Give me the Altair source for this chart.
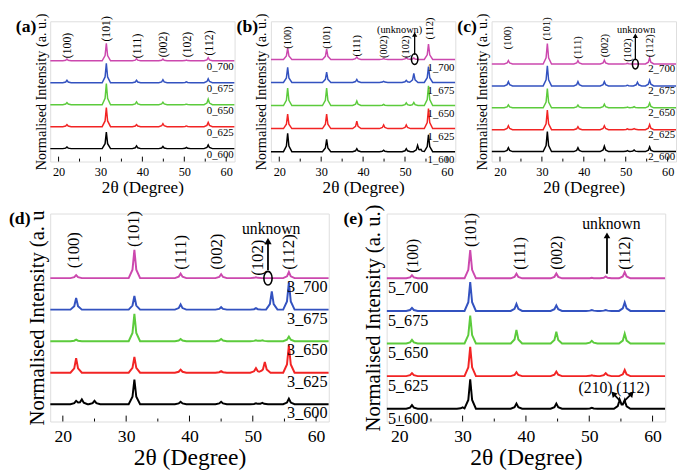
import altair as alt
import numpy as np
import pandas as pd

FONT = "Liberation Serif, Times New Roman, DejaVu Serif, serif"
X_DOMAIN = [18, 62]
MAJOR_TICKS = [20, 30, 40, 50, 60]
MINOR_TICKS = [25, 35, 45, 55]
TEMPS = ["600", "625", "650", "675", "700"]
TRACE_COLORS = ["#000000", "#f22424", "#5ccb3c", "#3352c0", "#cc48ae"]
HKL6 = ["(100)", "(101)", "(111)", "(002)", "(102)", "(112)"]

# ---------------- panel (a) ----------------
A_POS = [22.0, 31.4, 38.6, 44.9, 50.5, 55.7]
A_HEIGHTS = [
    [1.7, 18.0, 3.0, 2.3, 1.3, 4.0],
    [2.3, 20.7, 2.3, 3.3, 0.8, 4.7],
    [2.3, 23.0, 3.0, 2.7, 0.6, 6.0],
    [2.7, 21.0, 2.7, 3.3, 1.0, 4.3],
    [2.0, 19.0, 2.3, 2.0, 0.7, 3.3],
]
A_HKL_X = [22.0, 31.4, 38.8, 45.0, 50.6, 55.8]
A_HKL_Y = [98, 116, 98, 99, 99, 101]

# ---------------- panel (b) ----------------
B_POS = [22.0, 31.3, 38.5, 44.9, 50.3, 52.1, 53.0, 53.8, 55.6]
B_HEIGHTS = [
    [20.0, 13.3, 3.3, 1.7, 3.3, 0.0, 6.7, 2.0, 18.3],
    [15.7, 15.7, 8.0, 4.0, 4.0, 0.0, 0.0, 0.0, 21.7],
    [19.0, 19.0, 5.0, 1.3, 3.0, 3.3, 0.0, 0.0, 21.3],
    [16.3, 11.3, 3.3, 1.3, 2.3, 9.7, 0.0, 0.0, 17.3],
    [12.3, 11.0, 2.7, 1.0, 1.7, 1.5, 0.0, 0.0, 16.7],
]
B_HKL_X = [22.0, 31.3, 38.5, 44.9, 50.2, 56.0]
B_HKL_Y = [111.6, 111.6, 103, 101.6, 101.6, 121.6]

# ---------------- panel (c) ----------------
C_POS = [22.0, 31.3, 38.6, 44.9, 50.4, 52.0, 52.8, 55.7]
C_HEIGHTS = [
    [4.3, 22.0, 4.3, 6.0, 1.0, 1.7, 0.0, 5.3],
    [4.3, 21.7, 3.3, 4.3, 1.0, 1.3, 0.0, 5.7],
    [3.3, 21.3, 3.0, 4.0, 0.8, 1.3, 0.0, 5.3],
    [4.7, 22.3, 4.7, 4.7, 0.8, 0.0, 4.0, 6.3],
    [3.7, 22.7, 3.7, 4.3, 0.7, 0.0, 0.0, 6.7],
]
C_HKL_X = [22.0, 31.3, 38.6, 45.0, 50.6, 55.7]
C_HKL_Y = [112.7, 122.7, 102.7, 104.3, 99.3, 104.3]

# ---------------- panel (d) ----------------
D_POS = [22.1, 23.0, 25.0, 31.3, 38.6, 45.0, 50.5, 51.5, 51.9, 53.0, 55.7]
D_HEIGHTS = [
    [3.7, 5.3, 3.7, 27.0, 2.7, 2.7, 1.0, 1.5, 0.0, 0.0, 6.0],
    [16.0, 0.0, 0.0, 17.3, 3.3, 1.7, 5.0, 0.0, 11.7, 0.0, 30.0],
    [1.7, 0.0, 0.0, 30.0, 2.3, 2.3, 1.0, 1.0, 0.0, 0.0, 5.0],
    [12.7, 0.0, 0.0, 15.0, 5.7, 2.7, 1.7, 0.0, 0.0, 20.0, 30.0],
    [3.3, 0.0, 0.0, 31.0, 5.0, 4.3, 1.0, 0.0, 0.0, 0.0, 6.7],
]
D_HKL_X = [21.8, 31.3, 38.75, 44.4, 50.8, 55.7]
D_HKL_Y = [149.3, 172.6, 147.6, 147.6, 141.0, 147.6]

# ---------------- panel (e) ----------------
E_POS = [22.0, 30.0, 31.2, 38.5, 44.8, 50.4, 52.6, 54.8, 55.6]
E_HEIGHTS = [
    [4.0, 1.5, 32.3, 5.7, 5.7, 1.0, 0.0, 9.7, 9.0],
    [3.3, 0.0, 32.0, 4.3, 5.0, 1.0, 3.3, 0.0, 6.7],
    [4.0, 0.0, 30.7, 15.0, 13.0, 3.0, 0.0, 0.0, 10.7],
    [3.3, 0.0, 31.7, 7.7, 6.0, 1.0, 1.0, 0.0, 9.3],
    [3.3, 0.0, 31.0, 5.0, 5.3, 0.5, 2.0, 0.0, 6.7],
]
E_HKL = ["(100)", "(101)", "(111)", "(002)", "(112)"]
E_HKL_X = [22.1, 31.3, 39.0, 45.0, 55.6]
E_HKL_Y = [149.0, 177.3, 152.3, 152.3, 152.3]

# peak profile template (style): offsets in degrees and relative heights
TOP_SHAPE_DX = [-1.0, -0.3, 0.0, 0.3, 1.0]
BOT_SHAPE_DX = [-0.9, -0.3, 0.0, 0.3, 0.9]
SHAPE_FRAC = [0.0, 0.3, 1.0, 0.3, 0.0]


def profile_table(pos, heights, names, step, dx):
    rows = []
    for i, (name, hs) in enumerate(zip(names, heights)):
        knots = set(X_DOMAIN)
        for c, h in zip(pos, hs):
            if h > 0:
                knots.update(round(c + d, 4) for d in dx)
        xs = np.array(sorted(knots))
        ys = np.full(xs.shape, i * step, dtype=float)
        for c, h in zip(pos, hs):
            if h > 0:
                ys += h * np.interp(xs, [c + d for d in dx], SHAPE_FRAC, left=0, right=0)
        for k, (a, b) in enumerate(zip(xs, ys)):
            rows.append({"x": float(a), "y": float(b), "trace": name, "k": k})
    return pd.DataFrame(rows)


def panel(p):
    X = alt.X("x:Q", scale=alt.Scale(domain=X_DOMAIN, nice=False, zero=False),
              axis=alt.Axis(values=MAJOR_TICKS, ticks=False, domain=False, grid=False,
                            labelFont=FONT, labelFontSize=p["tick_fs"], labelColor="black",
                            labelPadding=p["label_pad"], title="2θ (Degree)", titleFont=FONT,
                            titleFontSize=p["xtitle_fs"], titleFontWeight="normal",
                            titleColor="black", titlePadding=p["xtitle_pad"]))
    Y = alt.Y("y:Q", scale=alt.Scale(domain=p["ydom"], nice=False, zero=False),
              axis=alt.Axis(labels=False, ticks=False, domain=False, grid=False,
                            title=p["ytitle"], titleFont=FONT, titleFontSize=p["ytitle_fs"],
                            titleFontWeight="normal", titleColor="black",
                            titlePadding=p["ytitle_pad"]))
    names = [p["prefix"] + "_" + t for t in TEMPS]
    df = profile_table(p["pos"], p["heights"], names, p["step"], p["shape"])
    lines = alt.Chart(df).mark_line(strokeWidth=p["lw"], clip=True).encode(
        x=X, y=Y,
        color=alt.Color("trace:N", scale=alt.Scale(domain=names, range=TRACE_COLORS), legend=None),
        order="k:Q")
    samp = pd.DataFrame({"x": [p["name_x"]] * 5,
                         "y": [i * p["step"] + p["name_dy"] for i in range(5)],
                         "t": names})
    samples = alt.Chart(samp).mark_text(font=FONT, fontSize=p["name_fs"], align=p["name_align"],
                                        baseline="middle", color="black").encode(x=X, y=Y, text="t:N")
    hkl_df = pd.DataFrame({"x": p["hkl_x"], "y": p["hkl_y"], "t": p["hkl"]})
    hkl = alt.Chart(hkl_df).mark_text(font=FONT, fontSize=p["hkl_fs"], angle=270, align="left",
                                      baseline="middle", color="black").encode(x=X, y=Y, text="t:N")
    major = alt.Chart(pd.DataFrame({"x": MAJOR_TICKS})).mark_rule(color="black", strokeWidth=1).encode(
        x=X, y=alt.value(p["h"]), y2=alt.value(p["h"] - p["major_len"]))
    minor = alt.Chart(pd.DataFrame({"x": MINOR_TICKS})).mark_rule(color="black", strokeWidth=1).encode(
        x=X, y=alt.value(p["h"]), y2=alt.value(p["h"] - p["minor_len"]))
    tag = alt.Chart(pd.DataFrame({"t": [p["tag"]]})).mark_text(
        font=FONT, fontSize=18, fontWeight="bold", align="left", baseline="top", color="black").encode(
        x=alt.value(-p["tag_dx"]), y=alt.value(-3), text="t:N")
    layers = [lines, samples, hkl, major, minor, tag]
    if p.get("notes"):
        ndf = pd.DataFrame(p["notes"], columns=["x", "y", "t"])
        layers.append(alt.Chart(ndf).mark_text(font=FONT, fontSize=p["note_fs"], align="center",
                                               baseline="middle", color="black").encode(x=X, y=Y, text="t:N"))
    if p.get("arrows"):
        adf = pd.DataFrame(p["arrows"], columns=["x", "y", "x2", "y2", "a"])
        layers.append(alt.Chart(adf).mark_rule(color="black", strokeWidth=p["arrow_w"]).encode(
            x=X, y=Y, x2=alt.X2("x2:Q"), y2=alt.Y2("y2:Q")))
        hdf = pd.DataFrame({"x": adf["x2"], "y": adf["y2"], "a": adf["a"]})
        layers.append(alt.Chart(hdf).mark_point(shape="triangle-up", filled=True, color="black",
                                                opacity=1, size=p["head_size"]).encode(
            x=X, y=Y, angle=alt.Angle("a:Q", scale=None)))
    if p.get("ellipses"):
        edf = pd.DataFrame(p["ellipses"], columns=["x", "y"])
        layers.append(alt.Chart(edf).mark_point(
            shape="M0,-1A0.6,1 0 1,1 0,1A0.6,1 0 1,1 0,-1Z", filled=False, color="black",
            strokeWidth=1.6, opacity=1, size=p["ell_size"]).encode(x=X, y=Y))
    return alt.layer(*layers).properties(width=p["w"], height=p["h"])


TOP = dict(w=188, h=143, lw=1.5, shape=TOP_SHAPE_DX, tick_fs=12.5, xtitle_fs=17.5, ytitle_fs=14.5,
           label_pad=4, xtitle_pad=1, ytitle_pad=2, name_fs=11, hkl_fs=11, note_fs=10.5,
           major_len=5, minor_len=3, tag_dx=35, name_x=61.8, name_align="right",
           ytitle="Normalised Intensity (a. u.)", arrow_w=1.3, head_size=28, ell_size=100)
BOT = dict(w=284, h=212, lw=2.0, shape=BOT_SHAPE_DX, tick_fs=18, xtitle_fs=24, ytitle_fs=21,
           label_pad=6, xtitle_pad=1, ytitle_pad=3, name_fs=16.5, hkl_fs=17, note_fs=16,
           major_len=6, minor_len=3, arrow_w=1.8, head_size=55, ell_size=196)

pa = panel(dict(TOP, prefix="0", pos=A_POS, heights=A_HEIGHTS, step=23.8, ydom=[-14, 138],
                name_dy=-7.3, hkl=HKL6, hkl_x=A_HKL_X, hkl_y=A_HKL_Y, tag="(a)", hkl_fs=12))
pb = panel(dict(TOP, prefix="1", pos=B_POS, heights=B_HEIGHTS, step=25, ydom=[-10.7, 141.3],
                name_dy=-9, hkl=HKL6, hkl_x=B_HKL_X, hkl_y=B_HKL_Y, tag="(b)", hkl_fs=10.5,
                notes=[[48.7, 131.6, "(unknown)"]], arrows=[[52.3, 105, 52.3, 127, 0]],
                ellipses=[[52.3, 100.3]], ell_size=121))
pc = panel(dict(TOP, prefix="2", pos=C_POS, heights=C_HEIGHTS, step=24.2, ydom=[-11, 144],
                name_dy=-6, hkl=HKL6, hkl_x=C_HKL_X, hkl_y=C_HKL_Y, tag="(c)", hkl_fs=11,
                notes=[[52.5, 134.3, "unknown"]], arrows=[[52.3, 101, 52.3, 128, 0]],
                ellipses=[[52.3, 96.7]], ell_size=100))
pdd = panel(dict(BOT, prefix="3", pos=D_POS, heights=D_HEIGHTS, step=34.6, ydom=[-19, 209.3],
                 name_dy=-10, name_x=61.8, name_align="right", hkl=HKL6, hkl_x=D_HKL_X,
                 hkl_y=D_HKL_Y, tag="(d)", tag_dx=42, ytitle="Normalised Intensity (a. u",
                 notes=[[52.9, 192.6, "unknown"]], arrows=[[52.4, 147, 52.4, 179, 0]],
                 ellipses=[[52.4, 138.3]]))
pe = panel(dict(BOT, prefix="5", pos=E_POS, heights=E_HEIGHTS, step=35.75, ydom=[-14, 214],
                name_dy=-11, name_x=18.2, name_align="left", hkl=E_HKL, hkl_x=E_HKL_X,
                hkl_y=E_HKL_Y, tag="(e)", tag_dx=44, ytitle="Normalised Intensity (a. u.)",
                hkl_fs=16,
                notes=[[53.5, 202.3, "unknown"], [51.0, 22.3, "(210)"], [56.9, 22.3, "(112)"]],
                arrows=[[52.8, 148, 52.8, 190, 0], [54.8, 9, 53.8, 16.5, 318],
                        [55.6, 9, 56.7, 16.5, 42]],
                head_size=45))

top = alt.hconcat(pa, pb, pc, spacing=0)
bottom = alt.hconcat(pdd, pe, spacing=13)
chart = alt.vconcat(top, bottom, spacing=6).properties(padding=0).configure_view(
    stroke="black", strokeWidth=1).configure(font=FONT)

chart.save("out.html", embed_options={"renderer": "svg", "actions": False})
